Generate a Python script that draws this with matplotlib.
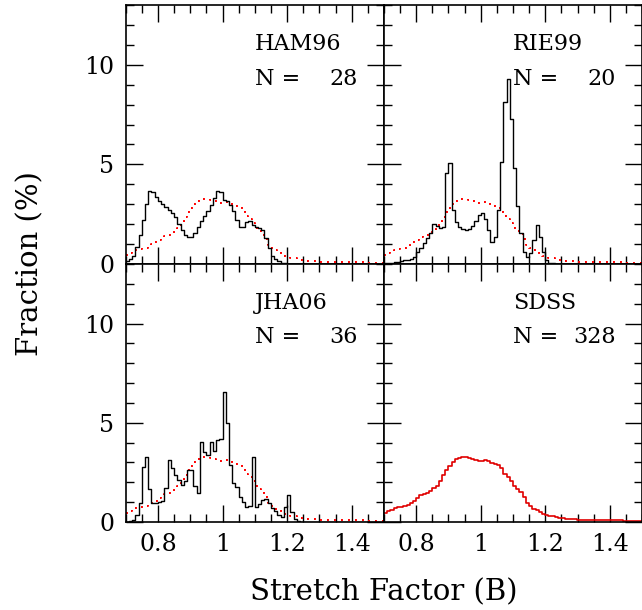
import numpy as np
import matplotlib
matplotlib.use("Agg")
import matplotlib.pyplot as plt
from matplotlib.ticker import MultipleLocator, FixedLocator, FixedFormatter

# stretch-factor bins: 0.01 wide, 0.70 .. 1.50
bin_lo = 0.70
bin_width = 0.01
n_bins = 80

# SDSS reference distribution (%), drawn dotted in every panel
sdss = [
    0.46, 0.57, 0.62, 0.70, 0.74, 0.78, 0.80, 0.88, 0.98, 1.08,
    1.20, 1.36, 1.42, 1.45, 1.55, 1.70, 1.82, 2.05, 2.35, 2.62,
    2.82, 3.02, 3.15, 3.22, 3.27, 3.28, 3.20, 3.16, 3.14, 3.08,
    3.05, 3.12, 3.05, 2.98, 2.92, 2.85, 2.70, 2.40, 2.25, 2.05,
    1.80, 1.65, 1.50, 1.25, 0.95, 0.80, 0.68, 0.60, 0.50, 0.42,
    0.36, 0.32, 0.28, 0.24, 0.21, 0.18, 0.16, 0.15, 0.14, 0.13,
    0.12, 0.12, 0.11, 0.11, 0.10, 0.10, 0.10, 0.10, 0.10, 0.09,
    0.09, 0.09, 0.08, 0.08, 0.07, 0.07, 0.06, 0.06, 0.05, 0.04,
]

ham96 = [
    0.15, 0.25, 0.40, 0.85, 1.45, 2.20, 3.00, 3.65, 3.60, 3.35,
    3.15, 3.00, 2.85, 2.70, 2.55, 2.35, 2.00, 1.72, 1.47, 1.38,
    1.38, 1.58, 1.85, 2.14, 2.39, 2.68, 2.98, 3.30, 3.65, 3.60,
    3.23, 3.14, 2.98, 2.64, 2.22, 1.88, 1.88, 2.09, 2.14, 1.97,
    1.88, 1.80, 1.72, 1.30, 0.79, 0.40, 0.23, 0.15, 0.07, 0.04,
]

rie99 = [
    0.05, 0.06, 0.07, 0.09, 0.12, 0.15, 0.18, 0.20, 0.25, 0.35,
    0.60, 0.80, 1.05, 1.30, 1.55, 2.00, 1.92, 1.80, 1.88, 4.58,
    5.05, 2.73, 2.09, 1.85, 1.75, 1.72, 1.75, 1.90, 2.14, 2.45,
    2.56, 2.25, 1.70, 1.08, 1.38, 2.69, 5.12, 8.15, 9.29, 7.30,
    4.83, 2.93, 1.58, 0.62, 0.37, 0.54, 1.21, 1.97, 1.38, 0.62,
    0.20, 0.07, 0.03,
]

jha06 = [
    0.02, 0.05, 0.12, 0.35, 0.98, 2.76, 3.30, 1.65, 0.94, 0.96,
    1.00, 1.04, 1.70, 3.13, 2.71, 2.37, 2.12, 1.87, 2.05, 2.62,
    2.62, 1.82, 1.45, 4.05, 3.55, 3.40, 4.05, 3.60, 4.15, 4.20,
    6.53, 5.00, 2.88, 1.95, 1.78, 1.28, 1.02, 0.74, 0.80, 3.27,
    0.74, 0.91, 1.11, 1.14, 0.94, 0.69, 0.57, 0.35, 0.24, 0.74,
    1.36, 0.52, 0.14, 0.03,
]

samples = ["HAM96", "RIE99", "JHA06", "SDSS"]
sample_n = [28, 20, 36, 328]
sample_hist = [ham96, rie99, jha06, sdss]

xticks = [0.8, 1.0, 1.2, 1.4]
xtick_labels = ["0.8", "1", "1.2", "1.4"]
yticks = [0, 5, 10]

plt.rcParams["font.family"] = "DejaVu Serif"
plt.rcParams["font.size"] = 17


def padded(vals):
    out = np.zeros(n_bins)
    out[:len(vals)] = vals
    return out


def step_xy(vals):
    edges = bin_lo + bin_width * np.arange(n_bins + 1)
    y = padded(vals)
    return edges, np.append(y, y[-1])


fig = plt.figure(figsize=(6.42, 6.10), dpi=100)

x0, xm, x1 = 125.6 / 642, 384 / 642, 1.0
y_top, y_mid, y_bot = 1 - 5 / 610, 1 - 264 / 610, 1 - 522 / 610
boxes = [
    (x0, y_mid, xm - x0, y_top - y_mid),
    (xm, y_mid, x1 - xm, y_top - y_mid),
    (x0, y_bot, xm - x0, y_mid - y_bot),
    (xm, y_bot, x1 - xm, y_mid - y_bot),
]

for i, (name, n, hist) in enumerate(zip(samples, sample_n, sample_hist)):
    ax = fig.add_axes(boxes[i])
    ex, ey = step_xy(sdss)
    if name == "SDSS":
        ax.step(ex, ey, where="post", color="#e00000", lw=1.2)
    else:
        ax.step(ex, ey, where="post", color="red", lw=1.4,
                linestyle=(0, (1, 2.6)))
        hx, hy = step_xy(hist)
        ax.step(hx, hy, where="post", color="black", lw=1.0)

    ax.set_xlim(0.7, 1.5)
    ax.set_ylim(0, 13)
    ax.xaxis.set_major_locator(FixedLocator(xticks))
    ax.xaxis.set_major_formatter(FixedFormatter(xtick_labels))
    ax.xaxis.set_minor_locator(MultipleLocator(0.05))
    ax.yaxis.set_major_locator(FixedLocator(yticks))
    ax.yaxis.set_minor_locator(MultipleLocator(1))
    ax.tick_params(which="both", direction="in", top=True, right=True,
                   width=1.0, labelsize=17)
    ax.tick_params(which="major", length=12)
    ax.tick_params(which="minor", length=5.5)
    ax.tick_params(axis="x", pad=8)
    ax.tick_params(axis="y", pad=8)
    for sp in ax.spines.values():
        sp.set_linewidth(1.2)
    if i % 2 == 1:
        ax.tick_params(labelleft=False)
    if i < 2:
        ax.tick_params(labelbottom=False)

    ax.text(1.10, 11.05, name, fontsize=16, va="center", ha="left")
    ax.text(1.10, 9.3, "N =", fontsize=16, va="center", ha="left")
    ax.text(1.418, 9.3, str(n), fontsize=16, va="center", ha="right")

fig.text(30 / 642, 1 - 264 / 610, "Fraction (%)", rotation=90,
         ha="center", va="center", fontsize=21)
fig.text(384 / 642, 1 - 592 / 610, "Stretch Factor (B)",
         ha="center", va="center", fontsize=21)

fig.savefig("out.png", dpi=100)
